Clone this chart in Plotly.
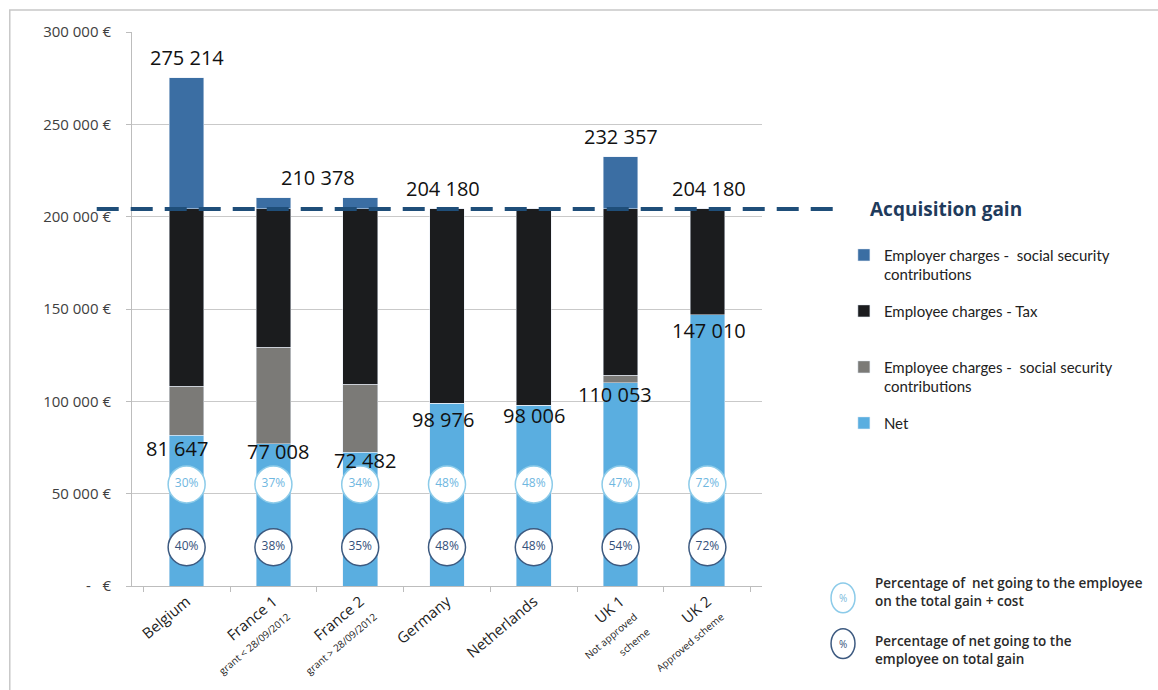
import plotly.graph_objects as go

# ---------------- data ----------------
countries = ["Belgium", "France 1", "France 2", "Germany", "Netherlands", "UK 1", "UK 2"]
country_labels = [
    "Belgium",
    "France 1<br><span style='font-size:10px'>grant &lt; 28/09/2012</span>",
    "France 2<br><span style='font-size:10px'>grant &gt; 28/09/2012</span>",
    "Germany",
    "Netherlands",
    "UK 1<br><span style='font-size:10px'>Not approved<br>scheme</span>",
    "UK 2<br><span style='font-size:10px'>Approved scheme</span>",
]
net = [81647, 77008, 72482, 98976, 98006, 110053, 147010]
employee_ss = [26553, 52200, 36800, 0, 0, 4000, 0]
employee_tax = [95980, 74972, 94898, 105204, 106174, 90127, 57170]
employer_ss = [71034, 6198, 6198, 0, 0, 28177, 0]
acquisition_gain = 204180

total_labels = [("Belgium", 275214, 0), ("France 1", 210378, 45),
                ("Germany", 204180, -4), ("UK 1", 232357, 0), ("UK 2", 204180, 2)]
net_label_shift = [(-10, -13), (5, -8), (5, -8), (-4, -16), (0, -10), (-6, -12), (2, -16)]

pct_total_cost = [30, 37, 34, 48, 48, 47, 72]
pct_gain = [40, 38, 35, 48, 48, 54, 72]

ytick_vals = [0, 50000, 100000, 150000, 200000, 250000, 300000]
ytick_text = ["-   €", "50 000 €", "100 000 €", "150 000 €", "200 000 €", "250 000 €", "300 000 €"]

# ---------------- style ----------------
FONT = "'Open Sans', sans-serif"
FONT_LEG = "Lato, sans-serif"
C_NET = "#5aaee0"
C_ESS = "#7b7a77"
C_TAX = "#1b1c1e"
C_EMP = "#3b6ea3"
C_DASH = "#1f4e79"
ROW_TOP_Y = 55000
ROW_BOT_Y = 21000

fig = go.Figure()
fig.add_bar(x=countries, y=net, name="Net", marker_color=C_NET,
            legendrank=4, legendgroup="g4")
fig.add_bar(x=countries, y=employee_ss,
            name="Employee charges -  social security<br>contributions",
            marker_color=C_ESS, legendrank=3, legendgroup="g3")
fig.add_bar(x=countries, y=employee_tax, name="Employee charges - Tax<br>&nbsp;",
            marker_color=C_TAX, legendrank=2, legendgroup="g2")
fig.add_bar(x=countries, y=employer_ss,
            name="Employer charges -  social security<br>contributions",
            marker_color=C_EMP, legendrank=1, legendgroup="g1")

# percentage circles
fig.add_scatter(x=countries, y=[ROW_TOP_Y] * len(countries), mode="markers+text",
                text=[f"{p}%" for p in pct_total_cost], textposition="middle center",
                textfont=dict(size=12, color="#6fb7df", family=FONT),
                marker=dict(size=37, color="white", line=dict(color="#8ccbe9", width=1.5)),
                showlegend=False, hoverinfo="skip")
fig.add_scatter(x=countries, y=[ROW_BOT_Y] * len(countries), mode="markers+text",
                text=[f"{p}%" for p in pct_gain], textposition="middle center",
                textfont=dict(size=12, color="#34507a", family=FONT),
                marker=dict(size=37, color="white", line=dict(color="#3d5a80", width=1.5)),
                showlegend=False, hoverinfo="skip")

annotations = []
for cat, val, xs in total_labels:
    annotations.append(dict(x=cat, y=val, xref="x", yref="y", text=f"{val:,}".replace(",", " "),
                            showarrow=False, yanchor="bottom", yshift=5, xshift=xs,
                            font=dict(size=20, color="#111", family=FONT)))
for cat, val, (xs, ys) in zip(countries, net, net_label_shift):
    annotations.append(dict(x=cat, y=val, xref="x", yref="y", text=f"{val:,}".replace(",", " "),
                            showarrow=False, yanchor="middle", yshift=ys, xshift=xs,
                            font=dict(size=20, color="#111", family=FONT)))
annotations.append(dict(x=1.168, y=acquisition_gain, xref="paper", yref="y",
                        text="<b>Acquisition gain</b>", showarrow=False, xanchor="left",
                        font=dict(size=19, color="#1f3b5c", family=FONT)))
annotations.append(dict(x=1.176, y=-0.01, xref="paper", yref="paper", xanchor="left",
                        yanchor="middle", align="left", showarrow=False,
                        text="Percentage of  net going to the employee<br>on the total gain + cost",
                        font=dict(size=13.5, color="#2a2a2a", family=FONT, weight=600)))
annotations.append(dict(x=1.176, y=-0.115, xref="paper", yref="paper", xanchor="left",
                        yanchor="middle", align="left", showarrow=False,
                        text="Percentage of net going to the<br>employee on total gain",
                        font=dict(size=13.5, color="#2a2a2a", family=FONT, weight=600)))
annotations.append(dict(x=1.1286, y=-0.0215, xref="paper", yref="paper", text="%",
                        showarrow=False, xanchor="center", yanchor="middle",
                        font=dict(size=10, color="#7ab9dc", family=FONT)))
annotations.append(dict(x=1.1286, y=-0.104, xref="paper", yref="paper", text="%",
                        showarrow=False, xanchor="center", yanchor="middle",
                        font=dict(size=10, color="#34507a", family=FONT)))

shapes = [
    dict(type="line", xref="paper", yref="y", x0=-0.056, x1=1.116,
         y0=acquisition_gain, y1=acquisition_gain,
         line=dict(color=C_DASH, width=4, dash="22px,12px")),
    dict(type="circle", xref="paper", yref="paper", x0=1.1286 - 0.019, x1=1.1286 + 0.019,
         y0=-0.0215 - 0.027, y1=-0.0215 + 0.027, line=dict(color="#8ccbe9", width=1.5)),
    dict(type="circle", xref="paper", yref="paper", x0=1.1286 - 0.019, x1=1.1286 + 0.019,
         y0=-0.104 - 0.027, y1=-0.104 + 0.027, line=dict(color="#3d5a80", width=1.5)),
    dict(type="rect", xref="paper", yref="paper", x0=-0.194, x1=1.7, y0=-0.25, y1=1.0395,
         line=dict(color="#c8c8c8", width=1.5), layer="below"),
]

fig.update_layout(
    width=1158, height=690,
    margin=dict(l=132, r=396, t=32, b=101),
    paper_bgcolor="white", plot_bgcolor="white",
    barmode="stack", bargap=0.6,
    font=dict(family=FONT, size=14, color="#222"),
    showlegend=True,
    legend=dict(x=1.13, y=0.627, xanchor="left", yanchor="top", traceorder="grouped",
                tracegroupgap=14, valign="top", font=dict(size=15, color="#222", family=FONT_LEG),
                bgcolor="rgba(0,0,0,0)", itemwidth=30),
    annotations=annotations,
    shapes=shapes,
    xaxis=dict(tickvals=countries, ticktext=country_labels, tickangle=-40,
               showline=True, linecolor="#bdbdbd", ticks="outside", tickson="boundaries",
               tickcolor="#bdbdbd", ticklen=5, tickfont=dict(size=15, color="#222", family=FONT)),
    yaxis=dict(range=[0, 300000], tickvals=ytick_vals, ticktext=ytick_text,
               showgrid=True, gridcolor="#c9c9c9", gridwidth=1, zeroline=False,
               showline=True, linecolor="#bdbdbd", ticks="outside", tickcolor="#bdbdbd",
               ticklen=5, ticklabelstandoff=12,
               tickfont=dict(size=15, color="#404040", family=FONT)),
)

fig.write_html("out.html")
